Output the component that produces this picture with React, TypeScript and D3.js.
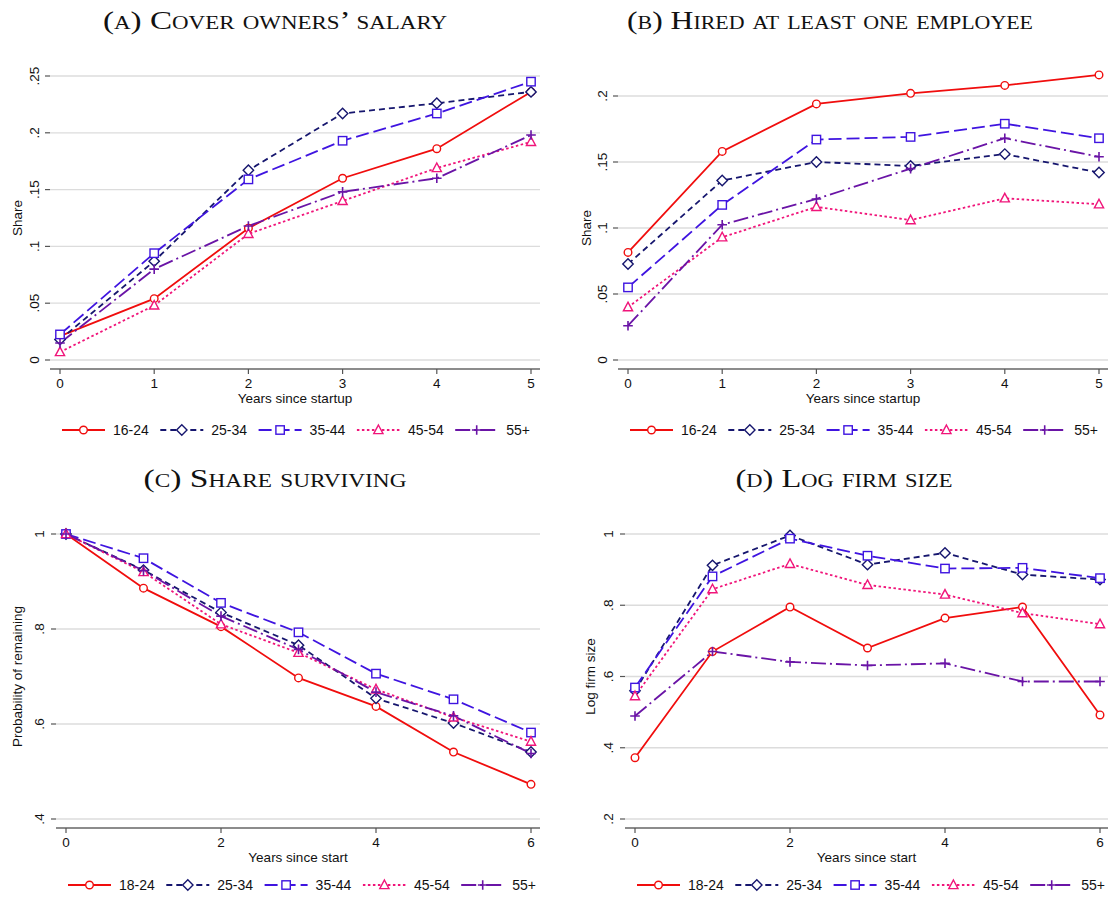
import React from "react";
import * as d3 from "d3";

// ---- Data -------------------------------------------------------------
const yearsStartup = [0, 1, 2, 3, 4, 5];
const yearsStart = [0, 1, 2, 3, 4, 5, 6];

const agesTop = ["16-24", "25-34", "35-44", "45-54", "55+"];
const agesBottom = ["18-24", "25-34", "35-44", "45-54", "55+"];

// (a) Cover owners' salary
const salary1624 = [0.021, 0.054, 0.116, 0.16, 0.186, 0.236];
const salary2534 = [0.018, 0.087, 0.167, 0.217, 0.226, 0.236];
const salary3544 = [0.0225, 0.094, 0.159, 0.193, 0.217, 0.245];
const salary4554 = [0.007, 0.048, 0.111, 0.14, 0.169, 0.192];
const salary55 = [0.015, 0.08, 0.118, 0.148, 0.16, 0.198];

// (b) Hired at least one employee
const hired1624 = [0.0815, 0.158, 0.194, 0.202, 0.208, 0.216];
const hired2534 = [0.0727, 0.136, 0.15, 0.147, 0.156, 0.142];
const hired3544 = [0.055, 0.1175, 0.167, 0.169, 0.179, 0.168];
const hired4554 = [0.04, 0.093, 0.116, 0.106, 0.1225, 0.118];
const hired55 = [0.026, 0.1025, 0.122, 0.145, 0.168, 0.154];

// (c) Share surviving
const surv1824 = [1.0, 0.886, 0.805, 0.697, 0.637, 0.541, 0.473];
const surv2534 = [1.0, 0.924, 0.835, 0.766, 0.654, 0.602, 0.541];
const surv3544 = [1.0, 0.949, 0.855, 0.793, 0.706, 0.652, 0.582];
const surv4554 = [1.0, 0.92, 0.81, 0.75, 0.673, 0.614, 0.563];
const surv55 = [1.0, 0.923, 0.827, 0.757, 0.667, 0.617, 0.538];

// (d) Log firm size
const size1824 = [0.372, 0.67, 0.795, 0.68, 0.764, 0.795, 0.492];
const size2534 = [0.56, 0.912, 0.996, 0.914, 0.947, 0.886, 0.872];
const size3544 = [0.569, 0.881, 0.987, 0.939, 0.903, 0.905, 0.876];
const size4554 = [0.545, 0.845, 0.916, 0.857, 0.83, 0.778, 0.747];
const size55 = [0.489, 0.67, 0.641, 0.631, 0.637, 0.586, 0.586];

const ticksShareA = [0, 0.05, 0.1, 0.15, 0.2, 0.25];
const ticksShareB = [0, 0.05, 0.1, 0.15, 0.2];
const ticksSurv = [0.4, 0.6, 0.8, 1];
const ticksSize = [0.2, 0.4, 0.6, 0.8, 1];
const xTicksStartup = [0, 1, 2, 3, 4, 5];
const xTicksStart = [0, 2, 4, 6];

// ---- Styles -------------------------------------------------------------
type Marker = "circle" | "diamond" | "square" | "triangle" | "plus";
const seriesStyle: { color: string; dash: string; marker: Marker }[] = [
  { color: "#f00d0d", dash: "", marker: "circle" },
  { color: "#16166e", dash: "6 4", marker: "diamond" },
  { color: "#3f14e0", dash: "13 5", marker: "square" },
  { color: "#f0157a", dash: "2.5 2.5", marker: "triangle" },
  { color: "#6a14a6", dash: "15 4 2 4", marker: "plus" },
];

const sans = "'Liberation Sans', Arial, Helvetica, sans-serif";
const serif = "'Liberation Serif', 'Times New Roman', serif";

const fmtTick = (v: number) => {
  if (v === 0) return "0";
  if (v === 1) return "1";
  return d3.format(".2~f")(v).replace(/^0/, "");
};

function MarkerShape({ type, color }: { type: Marker; color: string }) {
  const common = { fill: "white", stroke: color, strokeWidth: 1.4 };
  switch (type) {
    case "circle":
      return <circle r={3.8} {...common} />;
    case "diamond":
      return <path d="M0,-5.2L5.2,0L0,5.2L-5.2,0Z" {...common} />;
    case "square":
      return <rect x={-4.2} y={-4.2} width={8.4} height={8.4} {...common} />;
    case "triangle":
      return <path d="M0,-5L4.6,3.6L-4.6,3.6Z" {...common} />;
    case "plus":
      return (
        <path d="M-4.8,0H4.8M0,-4.8V4.8" fill="none" stroke={color} strokeWidth={1.6} />
      );
  }
}

interface PanelProps {
  title: string;
  titleX: number;
  titleY: number;
  titleWidth: number;
  xs: number[];
  series: number[][];
  labels: string[];
  xDomain: [number, number];
  xRange: [number, number];
  yDomain: [number, number];
  yRange: [number, number];
  yTicks: number[];
  xTicks: number[];
  gridX: [number, number];
  yLabelX: number;
  yTitleX: number;
  yTitle: string;
  xTitle: string;
  legendX: number;
  legendY: number;
}

function Panel(p: PanelProps) {
  const x = d3.scaleLinear().domain(p.xDomain).range(p.xRange);
  const y = d3.scaleLinear().domain(p.yDomain).range(p.yRange);
  const axisY = p.yRange[0] + 9;
  const line = d3
    .line<[number, number]>()
    .x((d) => x(d[0]))
    .y((d) => y(d[1]));
  const yMid = (p.yRange[0] + p.yRange[1]) / 2;
  const xMid = (p.gridX[0] + p.gridX[1]) / 2;
  const legendStep = 98.3;
  const sampleLen = 43;

  return (
    <g>
      <text
        x={p.titleX}
        y={p.titleY}
        textAnchor="middle"
        fontFamily={serif}
        fontSize={26}
        textLength={p.titleWidth}
        lengthAdjust="spacingAndGlyphs"
        style={{ fontVariant: "small-caps" }}
        fill="#111"
      >
        {p.title}
      </text>

      {/* horizontal grid and y ticks */}
      {p.yTicks.map((t) => (
        <g key={t}>
          <line
            x1={p.gridX[0]}
            x2={p.gridX[1]}
            y1={y(t)}
            y2={y(t)}
            stroke="#dcdcdc"
            strokeWidth={1.3}
          />
          <line
            x1={p.gridX[0] - 5}
            x2={p.gridX[0]}
            y1={y(t)}
            y2={y(t)}
            stroke="#555"
            strokeWidth={1.2}
          />
          <text
            transform={`translate(${p.yLabelX},${y(t)}) rotate(-90)`}
            textAnchor="middle"
            dominantBaseline="central"
            fontFamily={sans}
            fontSize={13.5}
            fill="#111"
          >
            {fmtTick(t)}
          </text>
        </g>
      ))}

      {/* x axis */}
      <line
        x1={p.gridX[0]}
        x2={p.gridX[1]}
        y1={axisY}
        y2={axisY}
        stroke="#666"
        strokeWidth={1.6}
      />
      {p.xTicks.map((t) => (
        <g key={t}>
          <line x1={x(t)} x2={x(t)} y1={axisY} y2={axisY + 5} stroke="#555" strokeWidth={1.2} />
          <text
            x={x(t)}
            y={axisY + 19}
            textAnchor="middle"
            fontFamily={sans}
            fontSize={13.5}
            fill="#111"
          >
            {t}
          </text>
        </g>
      ))}
      <text
        x={xMid}
        y={axisY + 34}
        textAnchor="middle"
        fontFamily={sans}
        fontSize={13.5}
        fill="#111"
      >
        {p.xTitle}
      </text>
      <text
        transform={`translate(${p.yTitleX},${yMid}) rotate(-90)`}
        textAnchor="middle"
        dominantBaseline="central"
        fontFamily={sans}
        fontSize={13.5}
        fill="#111"
      >
        {p.yTitle}
      </text>

      {/* series lines */}
      {p.series.map((vals, i) => {
        const st = seriesStyle[i];
        const pts = p.xs.map((xv, j) => [xv, vals[j]] as [number, number]);
        return (
          <path
            key={`l${i}`}
            d={line(pts) || ""}
            fill="none"
            stroke={st.color}
            strokeWidth={1.8}
            strokeDasharray={st.dash}
          />
        );
      })}
      {/* markers */}
      {p.series.map((vals, i) => {
        const st = seriesStyle[i];
        return (
          <g key={`m${i}`}>
            {p.xs.map((xv, j) => (
              <g key={j} transform={`translate(${x(xv)},${y(vals[j])})`}>
                <MarkerShape type={st.marker} color={st.color} />
              </g>
            ))}
          </g>
        );
      })}

      {/* legend */}
      {p.labels.map((lab, i) => {
        const st = seriesStyle[i];
        const lx = p.legendX + i * legendStep;
        return (
          <g key={lab}>
            <line
              x1={lx}
              x2={lx + sampleLen}
              y1={p.legendY}
              y2={p.legendY}
              stroke={st.color}
              strokeWidth={1.8}
              strokeDasharray={st.dash}
            />
            <g transform={`translate(${lx + sampleLen / 2},${p.legendY})`}>
              <MarkerShape type={st.marker} color={st.color} />
            </g>
            <text
              x={lx + 51}
              y={p.legendY}
              dominantBaseline="central"
              fontFamily={sans}
              fontSize={14}
              fill="#111"
            >
              {lab}
            </text>
          </g>
        );
      })}
    </g>
  );
}

export default function App() {
  return (
    <svg
      width={1109}
      height={898}
      viewBox="0 0 1109 898"
      style={{ display: "block", position: "absolute", left: 0, top: 0, background: "white" }}
    >
      <rect width={1109} height={898} fill="white" />
      <Panel
        title="(a) Cover owners’ salary"
        titleX={275}
        titleY={29}
        titleWidth={344}
        xs={yearsStartup}
        series={[salary1624, salary2534, salary3544, salary4554, salary55]}
        labels={agesTop}
        xDomain={[0, 5]}
        xRange={[60, 531]}
        yDomain={[0, 0.25]}
        yRange={[360, 76]}
        yTicks={ticksShareA}
        xTicks={xTicksStartup}
        gridX={[50, 540]}
        yLabelX={34}
        yTitleX={17}
        yTitle="Share"
        xTitle="Years since startup"
        legendX={62}
        legendY={430}
      />
      <Panel
        title="(b) Hired at least one employee"
        titleX={830}
        titleY={29}
        titleWidth={406}
        xs={yearsStartup}
        series={[hired1624, hired2534, hired3544, hired4554, hired55]}
        labels={agesTop}
        xDomain={[0, 5]}
        xRange={[628, 1099]}
        yDomain={[0, 0.2]}
        yRange={[360, 96]}
        yTicks={ticksShareB}
        xTicks={xTicksStartup}
        gridX={[618, 1108]}
        yLabelX={602}
        yTitleX={586}
        yTitle="Share"
        xTitle="Years since startup"
        legendX={630}
        legendY={430}
      />
      <Panel
        title="(c) Share surviving"
        titleX={275}
        titleY={487}
        titleWidth={263}
        xs={yearsStart}
        series={[surv1824, surv2534, surv3544, surv4554, surv55]}
        labels={agesBottom}
        xDomain={[0, 6]}
        xRange={[66, 531]}
        yDomain={[0.4, 1]}
        yRange={[819, 534]}
        yTicks={ticksSurv}
        xTicks={xTicksStart}
        gridX={[56, 540]}
        yLabelX={39}
        yTitleX={17}
        yTitle="Probability of remaining"
        xTitle="Years since start"
        legendX={68}
        legendY={885}
      />
      <Panel
        title="(d) Log firm size"
        titleX={844}
        titleY={487}
        titleWidth={217}
        xs={yearsStart}
        series={[size1824, size2534, size3544, size4554, size55]}
        labels={agesBottom}
        xDomain={[0, 6]}
        xRange={[635, 1100]}
        yDomain={[0.2, 1]}
        yRange={[819, 534]}
        yTicks={ticksSize}
        xTicks={xTicksStart}
        gridX={[625, 1108]}
        yLabelX={608}
        yTitleX={590}
        yTitle="Log firm size"
        xTitle="Years since start"
        legendX={637}
        legendY={885}
      />
    </svg>
  );
}
